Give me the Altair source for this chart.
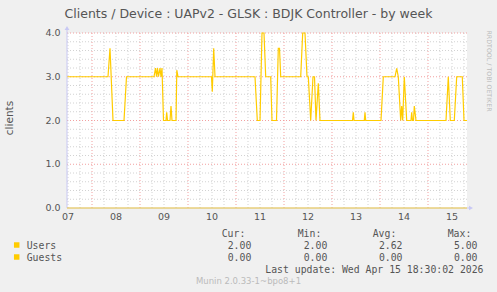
import altair as alt
import pandas as pd

# ---- data (hours since Apr 07 00:00) ----
user_hours = [11.5, 32.0, 33.0, 34.5, 40.0, 41.25, 55.0, 55.75, 56.25, 56.75, 57.25, 58.0, 58.5, 59.0, 59.75,
              61.0, 61.35, 61.75, 63.0, 63.5, 64.0, 66.0, 66.4, 67.0, 83.75, 84.15, 84.85, 85.5,
              105.5, 106.65, 108.0, 109.0, 110.0, 110.85, 113.35, 114.0, 116.25, 117.15, 117.75, 118.35,
              128.35, 129.35, 130.5, 131.5, 132.15, 133.35, 134.5, 135.25, 136.0, 137.15, 138.0,
              154.25, 154.65, 155.0, 160.15, 160.5, 160.85, 168.5, 169.65, 175.5, 176.35, 177.15,
              178.35, 178.85, 179.35, 180.15, 181.35, 183.5, 183.85, 184.25, 184.75, 185.15, 186.0,
              201.0, 202.15, 203.15, 205.15, 206.35, 209.15, 210.0, 211.5]
user_values = [3.0, 3.0, 3.65, 2.0, 2.0, 3.0, 3.0, 3.2, 3.0, 3.2, 3.0, 3.2, 3.0, 3.2, 2.0,
               2.0, 2.19, 2.0, 2.0, 2.33, 2.0, 2.0, 3.15, 3.0, 3.0, 2.66, 3.65, 3.0,
               3.0, 2.0, 2.0, 4.0, 4.0, 3.0, 3.0, 2.0, 2.0, 3.65, 3.65, 3.0,
               3.0, 4.0, 4.0, 3.0, 3.0, 2.0, 3.0, 3.0, 2.0, 2.85, 2.0,
               2.0, 2.19, 2.0, 2.0, 2.19, 2.0, 2.0, 3.0, 3.0, 3.19, 3.0,
               2.0, 2.33, 2.0, 3.0, 2.0, 2.0, 2.19, 2.0, 2.0, 2.33, 2.0,
               2.0, 3.0, 2.0, 2.0, 3.0, 3.0, 2.0, 2.0]
guest_hours = [11.5, 211.5]
guest_values = [0.0, 0.0]

day_ticks = [12, 36, 60, 84, 108, 132, 156, 180, 204]
day_labels = ["07", "08", "09", "10", "11", "12", "13", "14", "15"]
y_ticks = [0, 1, 2, 3, 4]

title_text = "Clients / Device : UAPv2 - GLSK : BDJK Controller - by week"
y_title = "clients"
series_names = ["Users", "Guests"]
headers = ["Cur:", "Min:", "Avg:", "Max:"]
cur_vals = ["2.00", "0.00"]
min_vals = ["2.00", "0.00"]
avg_vals = ["2.62", "0.00"]
max_vals = ["5.00", "0.00"]
last_update = "Last update: Wed Apr 15 18:30:02 2026"
munin_text = "Munin 2.0.33-1~bpo8+1"
rrd_text = "RRDTOOL / TOBI OETIKER"

YELLOW = "#FFCC00"
X0, Y0 = 67, 33   # plot origin
W, H = 400, 175

xscale = alt.Scale(domain=[11.5, 211.5], nice=False, zero=False)
yscale = alt.Scale(domain=[0, 4], nice=False)

# grid
minor_x = [h for h in range(12, 211, 6) if h % 24 != 0]
major_x = [h for h in range(24, 211, 24)]
minor_y = [round(v * 0.2, 1) for v in range(1, 20) if v % 5 != 0]
major_y = [1.0, 2.0, 3.0, 4.0]

def vrules(vals, color):
    return alt.Chart(pd.DataFrame({"h": vals})).mark_rule(
        color=color, strokeDash=[1, 2], strokeWidth=1).encode(
        x=alt.X("h:Q", scale=xscale, axis=None), y=alt.value(0), y2=alt.value(H))

def hrules(vals, color):
    return alt.Chart(pd.DataFrame({"v": vals})).mark_rule(
        color=color, strokeDash=[1, 2], strokeWidth=1).encode(
        y=alt.Y("v:Q", scale=yscale, axis=None), x=alt.value(0), x2=alt.value(W))

grid = [vrules(minor_x, "#D2D2D2"), hrules(minor_y, "#D2D2D2"),
        vrules(major_x, "#F2A0A0"), hrules(major_y, "#F2A0A0")]

users_df = pd.DataFrame({"h": user_hours, "v": user_values})
guests_df = pd.DataFrame({"h": guest_hours, "v": guest_values})

users_line = alt.Chart(users_df).mark_line(color=YELLOW, strokeWidth=1.2, interpolate="linear").encode(
    x=alt.X("h:Q", scale=xscale, axis=None),
    y=alt.Y("v:Q", scale=yscale, axis=None))

axis_lines = [
    alt.Chart(pd.DataFrame({"a": [0]})).mark_rule(color="#C8C8F4", strokeWidth=1).encode(
        x=alt.value(0), y=alt.value(-5), y2=alt.value(H)),
    alt.Chart(pd.DataFrame({"a": [0]})).mark_rule(color="#C8C8F4", strokeWidth=1).encode(
        x=alt.value(0), x2=alt.value(W + 4), y=alt.value(H)),
    alt.Chart(pd.DataFrame({"a": [0]})).mark_point(shape="triangle-up", filled=True, color="#C8C8F4",
                                                   size=22, opacity=1).encode(
        x=alt.value(0), y=alt.value(-5)),
    alt.Chart(pd.DataFrame({"a": [0]})).mark_point(shape="triangle-right", filled=True, color="#C8C8F4",
                                                   size=22, opacity=1).encode(
        x=alt.value(W + 4), y=alt.value(H)),
]

guests_line = alt.Chart(guests_df).mark_line(color=YELLOW, strokeWidth=1, opacity=0.75).encode(
    x=alt.X("h:Q", scale=xscale, axis=None),
    y=alt.Y("v:Q", scale=yscale, axis=None))

xlabels = alt.Chart(pd.DataFrame({"h": day_ticks, "t": day_labels})).mark_text(
    font="DejaVu Sans", fontSize=9.5, color="#555555", baseline="middle", align="center").encode(
    x=alt.X("h:Q", scale=xscale, axis=None), y=alt.value(216.5 - Y0), text="t:N")

ylabels = alt.Chart(pd.DataFrame({"v": y_ticks})).mark_text(
    font="DejaVu Sans", fontSize=9.5, color="#555555", baseline="middle", align="right").encode(
    y=alt.Y("v:Q", scale=yscale, axis=None), x=alt.value(60.5 - X0),
    text=alt.Text("v:Q", format=".1f"))

def txt(s, x, y, align="left", size=9.8, color="#555555", font="DejaVu Sans Mono", angle=0):
    return alt.Chart(pd.DataFrame({"t": [s]})).mark_text(
        font=font, fontSize=size, color=color, align=align, baseline="middle", angle=angle).encode(
        x=alt.value(x - X0), y=alt.value(y - Y0), text="t:N")

texts = [
    txt(title_text, 248.5, 13.5, align="center", size=12.5, font="DejaVu Sans", color="#555555"),
    txt(y_title, 10, 118, align="center", size=10.5, font="DejaVu Sans", color="#555555", angle=270),
    txt(rrd_text, 489, 71, align="center", size=6.3, font="DejaVu Sans", color="#BBBBBB", angle=90),
    txt(munin_text, 248.5, 281, align="center", size=8.5, font="DejaVu Sans", color="#BBBBBB"),
    txt(last_update, 483.5, 269.5, align="right"),
]
hdr_x = [221.7, 297.7, 372.7, 447.7]
val_x = [251.3, 327.3, 402.5, 477.5]
for hx, hs in zip(hdr_x, headers):
    texts.append(txt(hs, hx, 233.5))
row_y = [245.5, 257.5]
for i, name in enumerate(series_names):
    texts.append(txt(name, 26.7, row_y[i]))
    for vx, col in zip(val_x, [cur_vals, min_vals, avg_vals, max_vals]):
        texts.append(txt(col[i], vx, row_y[i], align="right"))

sw = [alt.Chart(pd.DataFrame({"n": [n]})).mark_square(color=YELLOW, size=30, opacity=1, filled=True).encode(
    x=alt.value(16.7 - X0), y=alt.value(ry - 0.5 - Y0)) for n, ry in zip(series_names, row_y)]

chart = alt.layer(*grid, users_line, *axis_lines, guests_line, xlabels, ylabels, *texts, *sw).properties(
    width=W, height=H,
    autosize=alt.AutoSizeParams(type="none"),
    padding={"left": X0, "top": Y0, "right": 497 - X0 - W, "bottom": 292 - Y0 - H},
    background="#F0F0F0",
).configure_view(fill="white", stroke=None)

chart.save("out.html", embed_options={"renderer": "svg", "actions": False})
